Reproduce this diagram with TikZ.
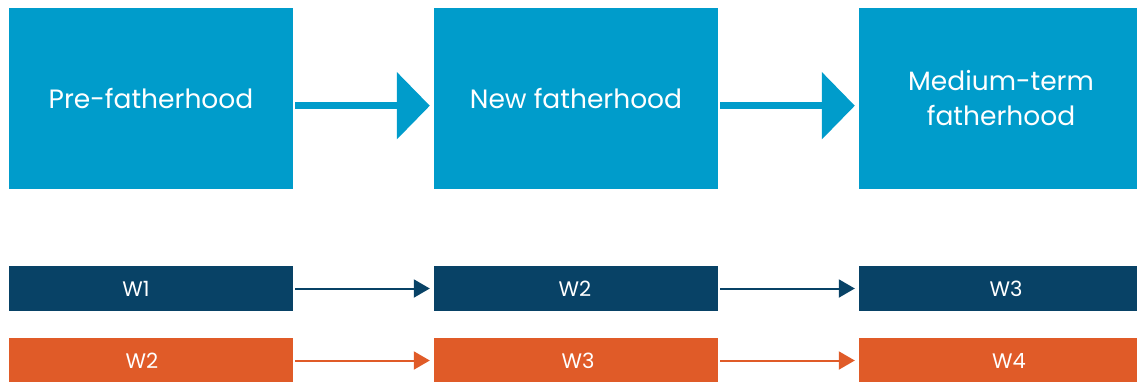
\documentclass[tikz,border=0pt]{standalone}
\usepackage{fontspec}
\setmainfont{Poppins}
\usetikzlibrary{arrows.meta}
\definecolor{lblue}{RGB}{0,156,203}
\definecolor{navy}{RGB}{8,66,102}
\definecolor{orng}{RGB}{224,91,40}
\tikzset{
  bigbox/.style={fill=lblue, text=white, minimum width=284pt, minimum height=181pt, inner sep=0pt, align=center, font=\fontsize{26.5}{35}\selectfont},
  wbox/.style={minimum width=284pt, minimum height=45pt, inner sep=0pt},
  wlbl/.style={text=white, inner sep=0pt, font=\fontsize{21}{24}\selectfont},
  navybox/.style={wbox, fill=navy},
  orngbox/.style={wbox, fill=orng},
  bigarrow/.style={draw=lblue, line width=6.5pt, -{Triangle[length=33pt,width=66pt]}, shorten <=2pt, shorten >=4pt},
  smallarrow/.style={line width=2pt, -{Triangle[length=16pt,width=18pt]}, shorten <=2pt, shorten >=4pt},
}
\begin{document}
\begin{tikzpicture}[x=1pt,y=-1pt]
\useasboundingbox (0,0) rectangle (1137,381);
\clip (0,0) rectangle (1137,381);
\node[bigbox] (b1) at (151,98.5) {Pre-fatherhood};
\node[bigbox] (b2) at (576,98.5) {New fatherhood};
\node[bigbox] (b3) at (1001,98.5) {Medium-term\\fatherhood};
\node[navybox, label={[wlbl, xshift=-15pt]center:W1}] (n1) at (151,288.5) {};
\node[navybox, label={[wlbl, xshift=-1pt]center:W2}] (n2) at (576,288.5) {};
\node[navybox, label={[wlbl, xshift=5pt]center:W3}] (n3) at (1001,288.5) {};
\node[orngbox, label={[wlbl, xshift=-9pt]center:W2}] (o1) at (151,360.5) {};
\node[orngbox, label={[wlbl, xshift=2pt]center:W3}] (o2) at (576,360.5) {};
\node[orngbox, label={[wlbl, xshift=8pt]center:W4}] (o3) at (1001,360.5) {};
\draw[bigarrow] ([yshift=-7.2pt]b1.east) -- ([yshift=-7.2pt]b2.west);
\draw[bigarrow] ([yshift=-7.2pt]b2.east) -- ([yshift=-7.2pt]b3.west);
\draw[smallarrow, draw=navy, fill=navy] (n1) -- (n2);
\draw[smallarrow, draw=navy, fill=navy] (n2) -- (n3);
\draw[smallarrow, draw=orng, fill=orng] (o1) -- (o2);
\draw[smallarrow, draw=orng, fill=orng] (o2) -- (o3);
\end{tikzpicture}
\end{document}
